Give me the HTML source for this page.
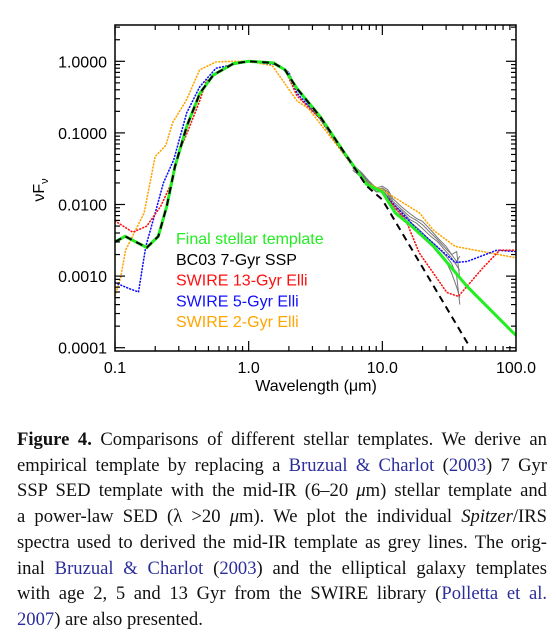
<!DOCTYPE html>
<html><head><meta charset="utf-8">
<style>
html,body{margin:0;padding:0;background:#fff;width:556px;height:639px;overflow:hidden}
svg{position:absolute;left:0;top:0}
#cap{position:absolute;left:17px;top:427px;width:530px;font-family:"Liberation Serif",serif;font-size:18.6px;line-height:25.7px;color:#111}
#cap div{text-align:justify;text-align-last:justify;white-space:nowrap}
#cap div.last{text-align-last:left}
.l{color:#2b2e9a}
</style></head><body>
<svg id="chart" width="556" height="410" xmlns="http://www.w3.org/2000/svg"></svg>
<div id="cap">
<div><b>Figure 4.</b> Comparisons of different stellar templates. We derive an</div>
<div>empirical template by replacing a <span class="l">Bruzual &amp; Charlot</span> (<span class="l">2003</span>) 7 Gyr</div>
<div>SSP SED template with the mid-IR (6–20 <i>μ</i>m) stellar template and</div>
<div>a power-law SED (λ &gt;20 <i>μ</i>m). We plot the individual <i>Spitzer</i>/IRS</div>
<div>spectra used to derived the mid-IR template as grey lines. The orig-</div>
<div>inal <span class="l">Bruzual &amp; Charlot</span> (<span class="l">2003</span>) and the elliptical galaxy templates</div>
<div>with age 2, 5 and 13 Gyr from the SWIRE library (<span class="l">Polletta et al.</span></div>
<div class="last"><span class="l">2007</span>) are also presented.</div>
</div>
<script>
const greenX=[0.1,0.119,0.173,0.211,0.244,0.281,0.344,0.432,0.545,0.77,1.0,1.53,1.87,2.29,3.42,5.42,7.65,10,12.5,16.1,24.2,43,100];
const greenY=[0.0030,0.0036,0.0025,0.0036,0.0095,0.034,0.123,0.358,0.645,0.93,1.0,0.95,0.76,0.42,0.17,0.047,0.019,0.015,0.0076,0.0052,0.0026,0.00072,0.000148];
const blackX=[0.1,0.119,0.173,0.211,0.244,0.281,0.344,0.432,0.545,0.77,1.0,1.53,1.87,2.29,3.42,5.42,7.65,10,45.4];
const blackY=[0.0030,0.0036,0.0025,0.0036,0.0095,0.034,0.123,0.358,0.645,0.93,1.0,0.95,0.76,0.42,0.17,0.047,0.018,0.0117,0.0001];
const redX=[0.1,0.136,0.173,0.22,0.258,0.30,0.36,0.43,0.48,0.7,1.0,1.6,1.9,2.3,3.4,5.4,7.6,10,15,18.9,30.4,37,56.8,75.5,100];
const redY=[0.0059,0.0041,0.0050,0.0095,0.018,0.052,0.12,0.28,0.52,0.87,1.0,0.93,0.72,0.33,0.16,0.045,0.019,0.015,0.006,0.0021,0.00059,0.00052,0.00132,0.0023,0.0023];
const blueX=[0.1,0.13,0.15,0.17,0.2,0.23,0.275,0.344,0.43,0.57,1.0,1.6,2.0,2.3,3.4,5.4,7.6,10,17.6,35,43,72,100];
const blueY=[0.00081,0.00066,0.0006,0.0026,0.0076,0.02,0.042,0.19,0.44,0.8,1.0,0.9,0.7,0.36,0.16,0.045,0.019,0.015,0.0048,0.00155,0.0016,0.0023,0.0022];
const orangeX=[0.1,0.11,0.12,0.165,0.2,0.24,0.27,0.34,0.43,0.57,0.78,1.0,1.5,2.3,2.8,5.4,7.6,10,19,24,35,100];
const orangeY=[0.00053,0.00094,0.0023,0.0076,0.047,0.067,0.14,0.28,0.76,0.98,1.0,1.0,0.87,0.28,0.22,0.045,0.02,0.016,0.0076,0.0044,0.0026,0.0018];
const greyX=[6,7,8,9,10,11,12,14,16,18,20,23,26,30,33,36,38];
const greySpectra=[
 [0.034,0.026,0.020,0.016,0.017,0.014,0.010,0.0080,0.0062,0.0055,0.0046,0.0036,0.0030,0.0022,0.0018,0.0014,0.0012],
 [0.030,0.024,0.018,0.015,0.015,0.012,0.0085,0.0068,0.0052,0.0042,0.0036,0.0028,0.0021,0.0016,0.0011,0.0007,0.0005],
 [0.036,0.028,0.021,0.017,0.018,0.016,0.012,0.0092,0.0075,0.0064,0.0058,0.0044,0.0034,0.0026,0.0020,0.0016,0.0019],
 [0.032,0.025,0.019,0.015,0.016,0.013,0.0092,0.0072,0.0058,0.0048,0.0040,0.0031,0.0025,0.0019,0.0015,0.0010,0.0004],
 [0.033,0.027,0.020,0.016,0.017,0.015,0.011,0.0085,0.0068,0.0060,0.0052,0.0040,0.0032,0.0024,0.0020,0.0022,0.0009]
];
const xTicks=[0.1,1,10,100];
const xTickLabels=["0.1","1.0","10.0","100.0"];
const yTicks=[1,0.1,0.01,0.001,0.0001];
const yTickLabels=["1.0000","0.1000","0.0100","0.0010","0.0001"];
const legendLabels=["Final stellar template","BC03 7-Gyr SSP","SWIRE 13-Gyr Elli","SWIRE 5-Gyr Elli","SWIRE 2-Gyr Elli"];
const legendColors=["#22ee22","#000000","#ff1010","#1010ff","#ffa500"];

const L=115,R=516,T=25,B=351;
const X0=-1,X1=2;
function xs(v){return L+(Math.log10(v)-X0)/(X1-X0)*(R-L);}
function ys(v){return 61.3+(0-Math.log10(v))*71.6;}
const NS="http://www.w3.org/2000/svg";
const svg=document.getElementById('chart');
function el(t,a,p){const e=document.createElementNS(NS,t);for(const k in a)e.setAttribute(k,a[k]);(p||svg).appendChild(e);return e;}
const defs=el('defs',{});const cp=el('clipPath',{id:'pc'},defs);el('rect',{x:L,y:T,width:R-L,height:B-T},cp);
const g=el('g',{'clip-path':'url(#pc)'});
function pathD(xa,ya){return xa.map((x,i)=>(i?'L':'M')+xs(x).toFixed(1)+','+ys(ya[i]).toFixed(1)).join('');}
greySpectra.forEach((s,i)=>{const p=el('path',{d:pathD(greyX,s),fill:'none',stroke:'#777','stroke-width':1},g);

});
const series=[[orangeX,orangeY,'#ffa500','swire-2gyr-line'],[blueX,blueY,'#1010ff','swire-5gyr-line'],[redX,redY,'#ff1010','swire-13gyr-line']];
series.forEach(s=>{const p=el('path',{d:pathD(s[0],s[1]),fill:'none',stroke:s[2],'stroke-width':1.6,'stroke-dasharray':'0.8 2.4','stroke-linecap':'round'},g);

});
const gp=el('path',{d:pathD(greenX,greenY),fill:'none',stroke:'#22ee22','stroke-width':3},g);


const bp=el('path',{d:pathD(blackX,blackY),fill:'none',stroke:'#000','stroke-width':2,'stroke-dasharray':'7 5'},g);


const fr=el('rect',{x:L,y:T,width:R-L,height:B-T,fill:'none',stroke:'#000','stroke-width':1.5});


for(let d=-1;d<2;d++){for(let m=1;m<=9;m++){const v=m*Math.pow(10,d);const x=xs(v);const len=m===1?10:5;
el('line',{x1:x,y1:B,x2:x,y2:B-len,stroke:'#000','stroke-width':1.2});el('line',{x1:x,y1:T,x2:x,y2:T+len,stroke:'#000','stroke-width':1.2});}}
xTicks.forEach((v,i)=>{const t=el('text',{x:xs(v),y:373,'text-anchor':'middle','font-family':'Liberation Sans, sans-serif','font-size':16});t.textContent=xTickLabels[i];

});
for(let d=-4;d<1;d++){for(let m=1;m<=9;m++){const v=m*Math.pow(10,d);const y=ys(v);if(y<T||y>B)continue;const len=m===1?10:5;
el('line',{x1:L,y1:y,x2:L+len,y2:y,stroke:'#000','stroke-width':1.2});el('line',{x1:R,y1:y,x2:R-len,y2:y,stroke:'#000','stroke-width':1.2});}}
yTicks.forEach((v,i)=>{const t=el('text',{x:107,y:ys(v)+6,'text-anchor':'end','font-family':'Liberation Sans, sans-serif','font-size':16});t.textContent=yTickLabels[i];

});
const xt=el('text',{x:316,y:391,'text-anchor':'middle','font-family':'Liberation Sans, sans-serif','font-size':16});xt.textContent='Wavelength (μm)';


const yt=el('text',{transform:'translate(44,190) rotate(-90)','text-anchor':'middle','font-family':'Liberation Sans, sans-serif','font-size':16});
yt.innerHTML='νF<tspan font-size="11" dy="4">ν</tspan>';


legendLabels.forEach((s,i)=>{const t=el('text',{x:176,y:244+i*20.8,'font-family':'Liberation Sans, sans-serif','font-size':16,fill:legendColors[i]});t.textContent=s;

});
</script>
</body></html>
